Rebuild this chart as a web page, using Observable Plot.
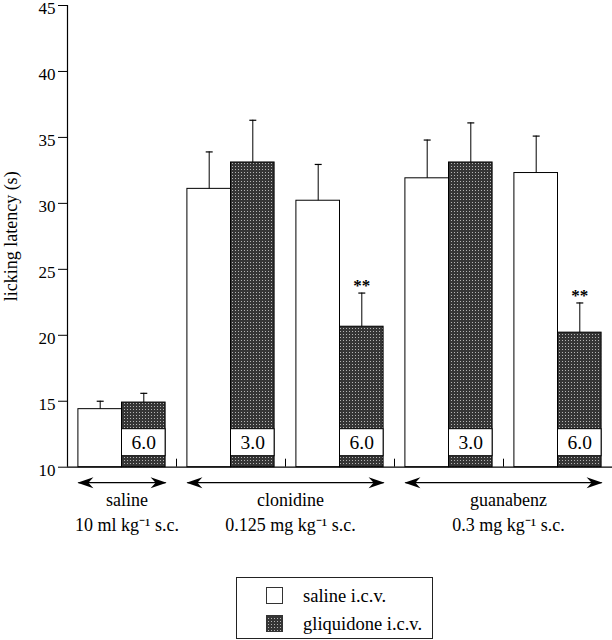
<!DOCTYPE html>
<html><head><meta charset="utf-8">
<script src="https://cdn.jsdelivr.net/npm/d3@7"></script>
<script src="https://cdn.jsdelivr.net/npm/@observablehq/plot@0.6"></script>
<style>
body{margin:0;background:#fff;font-family:"Liberation Serif",serif;}
#chart svg, #legend svg{display:block;}
</style></head><body>
<div id="chart"></div>
<div id="legend"></div>
<script>
// ---- data ----
const pairs = ["saline + gliquidone 6.0", "clonidine + gliquidone 3.0", "clonidine + gliquidone 6.0", "guanabenz + gliquidone 3.0", "guanabenz + gliquidone 6.0"];
const gliquidoneDose = ["6.0", "3.0", "6.0", "3.0", "6.0"];
const salineICV = [14.4, 31.1, 30.2, 31.9, 32.3];
const salineICVErr = [0.6, 2.8, 2.75, 2.9, 2.8];
const gliquidoneICV = [14.9, 33.1, 20.65, 33.1, 20.2];
const gliquidoneICVErr = [0.7, 3.2, 2.55, 3.0, 2.25];
const significance = ["", "", "**", "", "**"];
const groups = ["saline", "clonidine", "guanabenz"];
const groupDose = ["10 ml kg\u207B\u00B9 s.c.", "0.125 mg kg\u207B\u00B9 s.c.", "0.3 mg kg\u207B\u00B9 s.c."];
const groupFirstPair = [0, 1, 3];
const groupLastPair = [0, 2, 4];
const yTicks = [10, 15, 20, 25, 30, 35, 40, 45];
const yLabel = "licking latency (s)";
const legendLabels = ["saline i.c.v.", "gliquidone i.c.v."];

// ---- build ----
const W = 0.4; // bar width in pair units
const yBase = yTicks[0];
const yTop = yTicks[yTicks.length - 1];
const xDomain = [-0.1, pairs.length - 0.1];
const white = pairs.map((p, i) => ({pair: p, x1: i, x2: i + W, v: salineICV[i], e: salineICVErr[i]}));
const grey = pairs.map((p, i) => ({pair: p, x1: i + W, x2: i + 2 * W, v: gliquidoneICV[i], e: gliquidoneICVErr[i], dose: gliquidoneDose[i], sig: significance[i]}));
const allBars = white.concat(grey);
const cx = d => (d.x1 + d.x2) / 2;
const sepTicks = pairs.map((p, i) => i + 2 * W + 0.1);
const groupRows = groups.map((g, k) => ({name: g, dose: groupDose[k], a: groupFirstPair[k], b: groupLastPair[k] + 2 * W}));

const arrowHead = {draw(ctx) { ctx.moveTo(1, 0); ctx.lineTo(-15, -5.5); ctx.lineTo(-10, 0); ctx.lineTo(-15, 5.5); ctx.closePath(); }};

const svg = Plot.plot({
  width: 612, height: 560,
  marginLeft: 67, marginRight: 0, marginTop: 5, marginBottom: 93.3,
  x: {domain: xDomain},
  y: {domain: [yBase, yTop]},
  style: {fontFamily: "Liberation Serif", fontSize: "17px", color: "black", background: "white", overflow: "visible"},
  marks: [
    Plot.axisY({ticks: yTicks, tickSize: 9, tickFormat: () => "", label: yLabel, labelAnchor: "center", labelArrow: "none", labelOffset: 63, fontSize: 18}),
    Plot.axisY({ticks: yTicks, tickSize: 0, tickPadding: 12, dy: 3, label: null, fontSize: 17}),
    Plot.axisX({ticks: sepTicks, tickSize: 8, tickFormat: () => "", dy: -8, label: null}),
    Plot.ruleX([xDomain[0]], {y1: yBase, y2: yTop, strokeWidth: 1.2}),
    Plot.rect(white, {x1: "x1", x2: "x2", y1: yBase, y2: "v", fill: "white", stroke: "black", strokeWidth: 1}),
    Plot.rect(grey, {x1: "x1", x2: "x2", y1: yBase, y2: "v", fill: "url(#stip)", stroke: "black", strokeWidth: 1}),
    Plot.rect(grey, {x1: "x1", x2: "x2", y1: yBase, y2: yBase, insetTop: -38, insetBottom: 11, fill: "white", stroke: "black", strokeWidth: 1}),
    Plot.text(grey, {x: cx, y: yBase, text: "dose", lineAnchor: "bottom", dy: -18, fontSize: 19.5}),
    Plot.ruleY([yBase], {strokeWidth: 1.2}),
    Plot.ruleX(allBars, {x: cx, y1: "v", y2: d => d.v + d.e, strokeWidth: 1}),
    Plot.link(allBars, {x1: d => cx(d) - 0.032, x2: d => cx(d) + 0.032, y1: d => d.v + d.e, y2: d => d.v + d.e, strokeWidth: 1.2}),
    Plot.text(grey.filter(d => d.sig), {x: cx, y: d => d.v + d.e, text: "sig", lineAnchor: "bottom", dy: -2, fontSize: 17, fontWeight: "bold"}),
    Plot.link(groupRows, {x1: "a", x2: "b", y1: yBase, y2: yBase, dy: 15.5, strokeWidth: 1.3}),
    Plot.dot(groupRows, {x: "b", y: yBase, dy: 15.5, symbol: arrowHead, fill: "black", stroke: null}),
    Plot.dot(groupRows, {x: "a", y: yBase, dy: 15.5, symbol: arrowHead, rotate: 180, fill: "black", stroke: null}),
    Plot.text(groupRows, {x: d => (d.a + d.b) / 2, y: yBase, text: d => d.name + "\n" + d.dose, lineAnchor: "bottom", dy: 64, dx: 5, lineHeight: 1.42, fontSize: 18})
  ]
});
const defs = d3.select(svg).insert("defs", ":first-child");
const pat = defs.append("pattern").attr("id", "stip").attr("width", 3).attr("height", 3).attr("patternUnits", "userSpaceOnUse");
pat.append("rect").attr("width", 3).attr("height", 3).attr("fill", "#353535");
pat.append("rect").attr("x", 1).attr("y", 1).attr("width", 1).attr("height", 1).attr("fill", "#b4b4b4");
document.getElementById("chart").appendChild(svg);

// ---- legend ----
const lg = d3.select("#legend").append("svg").attr("width", 612).attr("height", 80)
  .style("font-family", "Liberation Serif").style("font-size", "18.5px");
lg.append("rect").attr("x", 236.5).attr("y", 17.5).attr("width", 196).attr("height", 61).attr("fill", "none").attr("stroke", "#222");
const fills = ["white", "url(#stip)"];
legendLabels.forEach((t, i) => {
  lg.append("rect").attr("x", 266.5).attr("y", 27.5 + i * 28).attr("width", 16).attr("height", 16).attr("fill", fills[i]).attr("stroke", "#333");
  lg.append("text").attr("x", 303).attr("y", 42 + i * 28).text(t);
});
</script>
</body></html>
